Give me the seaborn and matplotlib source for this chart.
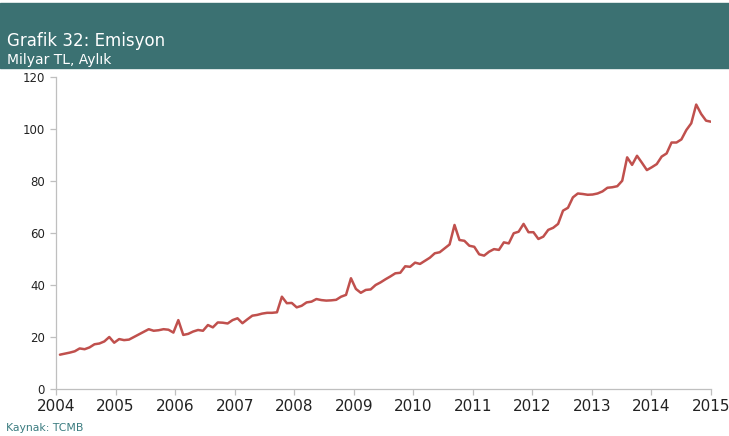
import numpy as np
import pandas as pd
import matplotlib
matplotlib.use("Agg")
import matplotlib.pyplot as plt
import seaborn as sns

# Monthly currency issued (Emisyon), billion TL, Jan 2004 - Jan 2015
values = [
    13.2, 13.6, 14.0, 14.5, 15.6, 15.3, 16.0, 17.2, 17.5, 18.3, 20.0, 17.8,   # 2004
    19.2, 18.8, 19.0, 20.0, 21.0, 22.0, 23.0, 22.4, 22.6, 23.0, 22.8, 21.7,   # 2005
    26.5, 20.8, 21.2, 22.1, 22.7, 22.4, 24.6, 23.7, 25.6, 25.5, 25.2, 26.5,   # 2006
    27.2, 25.3, 26.8, 28.2, 28.5, 29.0, 29.3, 29.3, 29.5, 35.5, 33.0, 33.1,   # 2007
    31.4, 32.0, 33.3, 33.6, 34.6, 34.2, 34.0, 34.1, 34.3, 35.5, 36.2, 42.6,   # 2008
    38.5, 37.0, 38.1, 38.3, 40.0, 41.0, 42.2, 43.3, 44.5, 44.7, 47.2, 47.0,   # 2009
    48.6, 48.1, 49.3, 50.5, 52.2, 52.6, 54.1, 55.6, 63.1, 57.3, 57.0, 55.1,   # 2010
    54.7, 51.8, 51.3, 52.8, 53.8, 53.5, 56.4, 56.0, 59.9, 60.5, 63.5, 60.3,   # 2011
    60.3, 57.7, 58.6, 61.2, 62.0, 63.5, 68.6, 69.7, 73.7, 75.2, 75.0, 74.7,   # 2012
    74.8, 75.2, 76.0, 77.4, 77.6, 78.0, 80.1, 89.1, 86.2, 89.7, 87.0, 84.2,   # 2013
    85.3, 86.5, 89.4, 90.6, 94.8, 94.8, 96.0, 99.6, 102.2, 109.4, 105.8, 103.2,  # 2014
    102.8,                                                                     # 2015
]
month_index = list(range(len(values)))
year_ticks = list(range(2004, 2016))
y_ticks = [0, 20, 40, 60, 80, 100, 120]

title = "Grafik 32: Emisyon"
subtitle = "Milyar TL, Aylık"
source = "Kaynak: TCMB"

df = pd.DataFrame({"t": [2004 + (m + 0.8) / 12.0 * (132 / 132.8) for m in month_index],
                   "v": values})

sns.set_theme(style="white")
plt.rcParams["font.family"] = ["DejaVu Sans"]

fig = plt.figure(figsize=(7.29, 4.36), dpi=100)
ax = fig.add_axes([56 / 729, 1 - 389 / 436, (711 - 56) / 729, (389 - 77) / 436])

sns.lineplot(data=df, x="t", y="v", ax=ax, color="#C0504D", linewidth=1.8)

ax.set_xlim(2004, 2015)
ax.set_ylim(0, 120)
ax.set_xticks(year_ticks)
ax.set_xticklabels([str(y) for y in year_ticks], fontsize=11, color="#222222")
ax.set_yticks(y_ticks)
ax.set_yticklabels([str(y) for y in y_ticks], fontsize=8.5, color="#222222")
ax.set_xlabel("")
ax.set_ylabel("")
for s in ["top", "right"]:
    ax.spines[s].set_visible(False)
for s in ["left", "bottom"]:
    ax.spines[s].set_color("#BFBFBF")
    ax.spines[s].set_linewidth(0.9)
ax.tick_params(axis="both", which="both", direction="out", length=4,
               color="#BFBFBF", width=0.9, left=True, bottom=True)
ax.tick_params(axis="y", pad=4)
ax.tick_params(axis="x", pad=3)
ax.grid(False)

# Header banner
banner = plt.Rectangle((0, 1 - 68 / 436), 1, (68 - 3) / 436, transform=fig.transFigure,
                       color="#3B7172", zorder=0)
fig.patches.append(banner)
fig.text(7 / 729, 1 - 41 / 436, title, color="white", fontsize=12,
         va="center", ha="left")
fig.text(7 / 729, 1 - 60 / 436, subtitle, color="white", fontsize=10,
         va="center", ha="left")
fig.text(6 / 729, 1 - 428 / 436, source, color="#3B7C80", fontsize=7.8,
         va="center", ha="left")

fig.savefig("out.png", dpi=100)
